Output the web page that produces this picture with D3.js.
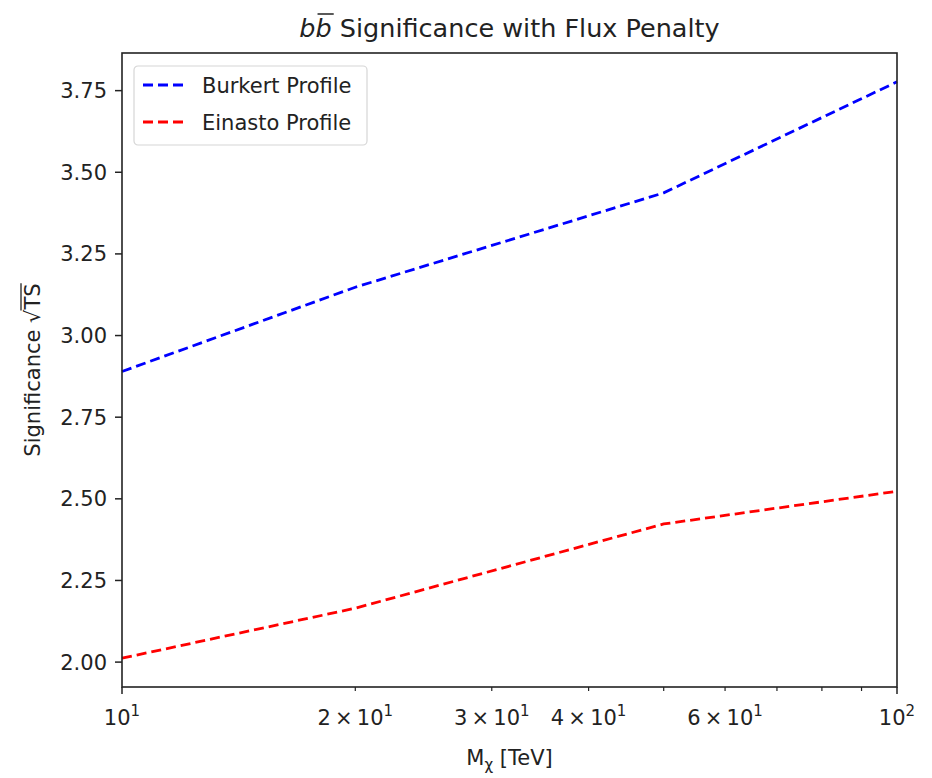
<!DOCTYPE html>
<html>
<head>
<meta charset="utf-8">
<script src="https://cdn.jsdelivr.net/npm/d3@7"></script>
<style>
  body { margin: 0; background: #fff; }
  text { font-family: "DejaVu Sans", sans-serif; fill: #222; }
</style>
</head>
<body>
<svg id="chart" width="932" height="778"></svg>
<script>
// masses in TeV
var masses = [10, 20, 50, 100];
var burkert = [2.89, 3.148, 3.437, 3.777];
var einasto = [2.012, 2.165, 2.423, 2.523];
var yTicks = [2.00, 2.25, 2.50, 2.75, 3.00, 3.25, 3.50, 3.75];
var xMinorTicks = [20, 30, 40, 50, 60, 70, 80, 90];
var xMinorLabels = {20: "2", 30: "3", 40: "4", 60: "6"};
var series = [
  {name: "Burkert Profile", values: burkert, color: "#0000ff"},
  {name: "Einasto Profile", values: einasto, color: "#ff0000"}
];

var mLeft = 122, mRight = 897, mTop = 53, mBottom = 687;
var fs = 21;
var svg = d3.select("#chart");

var all = burkert.concat(einasto);
var lo = d3.min(all), hi = d3.max(all), pad = (hi - lo) * 0.05;

var x = d3.scaleLog().domain([10, 100]).range([mLeft, mRight]);
var y = d3.scaleLinear().domain([lo - pad, hi + pad]).range([mBottom, mTop]);

// lines
var line = d3.line()
  .x(function (d, i) { return x(masses[i]); })
  .y(function (d) { return y(d); });

svg.selectAll("path.series").data(series).enter()
  .append("path")
  .attr("class", "series")
  .attr("d", function (s) { return line(s.values); })
  .attr("fill", "none")
  .attr("stroke", function (s) { return s.color; })
  .attr("stroke-width", 2.8)
  .attr("stroke-dasharray", "10,5");

// y axis
var gy = svg.append("g");
gy.selectAll("line").data(yTicks).enter().append("line")
  .attr("x1", mLeft - 7).attr("x2", mLeft)
  .attr("y1", function (d) { return y(d); })
  .attr("y2", function (d) { return y(d); })
  .attr("stroke", "#222").attr("stroke-width", 1.5);
gy.selectAll("text").data(yTicks).enter().append("text")
  .attr("x", mLeft - 15)
  .attr("y", function (d) { return y(d); })
  .attr("dy", "0.36em")
  .attr("text-anchor", "end")
  .attr("font-size", fs)
  .text(function (d) { return d3.format(".2f")(d); });

// x axis ticks
var gx = svg.append("g");
gx.selectAll("line.major").data([10, 100]).enter().append("line")
  .attr("class", "major")
  .attr("x1", function (d) { return x(d); })
  .attr("x2", function (d) { return x(d); })
  .attr("y1", mBottom).attr("y2", mBottom + 7)
  .attr("stroke", "#222").attr("stroke-width", 1.5);
gx.selectAll("line.minor").data(xMinorTicks).enter().append("line")
  .attr("class", "minor")
  .attr("x1", function (d) { return x(d); })
  .attr("x2", function (d) { return x(d); })
  .attr("y1", mBottom).attr("y2", mBottom + 4)
  .attr("stroke", "#222").attr("stroke-width", 1.2);

function powLabel(g, px, mant, exp) {
  var t = g.append("text")
    .attr("x", px).attr("y", mBottom + 38)
    .attr("text-anchor", "middle")
    .attr("font-size", fs);
  t.append("tspan").text((mant ? mant + "\u2009\u00d7\u2009" : "") + "10");
  t.append("tspan").attr("dy", -9).attr("font-size", 15).text(exp);
}
powLabel(gx, x(10), null, "1");
powLabel(gx, x(100), null, "2");
Object.keys(xMinorLabels).forEach(function (k) {
  powLabel(gx, x(+k), xMinorLabels[k], "1");
});

// frame
svg.append("rect")
  .attr("x", mLeft).attr("y", mTop)
  .attr("width", mRight - mLeft).attr("height", mBottom - mTop)
  .attr("fill", "none").attr("stroke", "#222").attr("stroke-width", 1.6);

// title: b b-bar
var cx = (mLeft + mRight) / 2;
var title = svg.append("text")
  .attr("x", cx).attr("y", 37)
  .attr("text-anchor", "middle")
  .attr("font-size", 25.5);
title.append("tspan").attr("font-style", "italic").text("b");
title.append("tspan").attr("font-style", "italic").text("b");
title.append("tspan").text(" Significance with Flux Penalty");
var tn = title.node();
var b0 = tn.getStartPositionOfChar(1).x, b1 = tn.getEndPositionOfChar(1).x;
svg.append("line")
  .attr("x1", b0 + 2).attr("x2", b1 + 2)
  .attr("y1", 14).attr("y2", 14)
  .attr("stroke", "#222").attr("stroke-width", 1.5);

// x label
var xl = svg.append("text")
  .attr("x", cx).attr("y", 765)
  .attr("text-anchor", "middle")
  .attr("font-size", fs);
xl.append("tspan").text("M");
xl.append("tspan").attr("dy", 5).attr("font-size", 15).text("\u03c7");
xl.append("tspan").attr("dy", -5).text(" [TeV]");

// y label
var ylT = "translate(40," + ((mTop + mBottom) / 2) + ") rotate(-90)";
var yl = svg.append("text")
  .attr("transform", ylT)
  .attr("text-anchor", "middle")
  .attr("font-size", fs);
yl.append("tspan").text("Significance \u221a");
yl.append("tspan").text("TS");
var yn = yl.node();
var n = yn.getNumberOfChars();
var s0 = yn.getStartPositionOfChar(n - 2).x, s1 = yn.getEndPositionOfChar(n - 1).x;
svg.append("line")
  .attr("transform", ylT)
  .attr("x1", s0 - 1).attr("x2", s1)
  .attr("y1", -19).attr("y2", -19)
  .attr("stroke", "#222").attr("stroke-width", 1.3);

// legend
var lg = svg.append("g").attr("transform", "translate(134,66)");
lg.append("rect")
  .attr("width", 233).attr("height", 79)
  .attr("rx", 4)
  .attr("fill", "#fff").attr("fill-opacity", 0.8)
  .attr("stroke", "#d6d6d6").attr("stroke-width", 1.2);
var rows = lg.selectAll("g.row").data(series).enter().append("g")
  .attr("class", "row")
  .attr("transform", function (d, i) { return "translate(0," + (19 + i * 37) + ")"; });
rows.append("line")
  .attr("x1", 9).attr("x2", 53)
  .attr("stroke", function (d) { return d.color; })
  .attr("stroke-width", 2.8)
  .attr("stroke-dasharray", "10,5");
rows.append("text")
  .attr("x", 68).attr("dy", "0.36em")
  .attr("font-size", fs)
  .text(function (d) { return d.name; });
</script>
</body>
</html>
